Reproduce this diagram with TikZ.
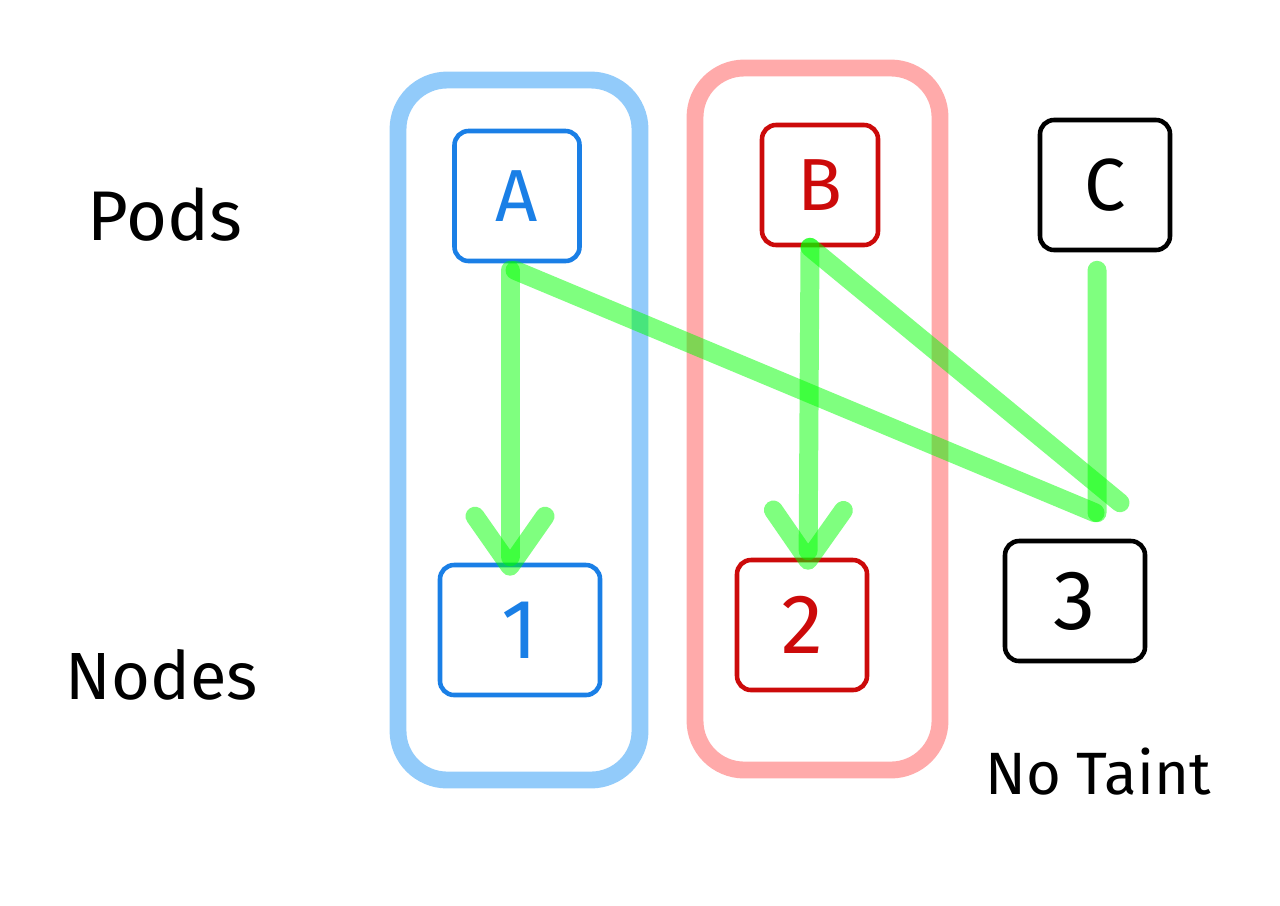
\documentclass[tikz,border=0pt]{standalone}
\usepackage{fontspec}
\setmainfont{Fira Sans}
\usetikzlibrary{arrows.meta,calc}
\definecolor{azul}{HTML}{1A7FE6}
\definecolor{azulclaro}{HTML}{92CBFA}
\definecolor{rojo}{HTML}{CC0A0A}
\definecolor{rojoclaro}{HTML}{FFAAAA}
\definecolor{verde}{HTML}{00FF00}

\begin{document}
\begin{tikzpicture}[
      p/.style={draw, rounded corners=4pt, line width=1.3pt, font=\fontsize{21}{25}\selectfont},
      n/.style={draw, rounded corners=4pt, line width=1.3pt, font=\fontsize{24}{28}\selectfont},
      zona/.style={draw, rounded corners=14pt, line width=4.8pt},
      f/.style={draw=verde, opacity=0.5, line width=5.4pt, line cap=round},
      fa/.style={f, -{Straight Barb[length=5mm, width=7mm, round]}},
      rot/.style={font=\fontsize{20}{24}\selectfont}]
    \useasboundingbox (0,0) rectangle (12.8,9.05);

    % --- Zonas de afinidad ---------------------------------------------
    \node[zona, draw=azulclaro, minimum width=2.42cm, minimum height=7.0cm] (za) at (5.19,4.75) {};
    \node[zona, draw=rojoclaro, minimum width=2.45cm, minimum height=7.02cm] (zb) at (8.175,4.86) {};

    % --- Fila 1: pods ----------------------------------------------------
    \node[rot] (pods) at (1.65,6.90) {Pods};
    \node[p, draw=azul, text=azul, minimum width=1.25cm, minimum height=1.3cm] (a) at (5.17,7.09) {A};
    \node[p, draw=rojo, text=rojo, minimum width=1.16cm, minimum height=1.2cm] (b) at (8.20,7.20) {B};
    \node[p, minimum width=1.3cm, minimum height=1.3cm] (c) at (11.05,7.20) {C};

    % --- Fila 2: nodos ---------------------------------------------------
    \node[rot, font=\fontsize{19}{23}\selectfont] (nodes) at (1.62,2.30) {Nodes};
    \node[n, draw=azul, text=azul, minimum width=1.6cm, minimum height=1.3cm] (n1) at (5.20,2.75) {1};
    \node[n, draw=rojo, text=rojo, minimum width=1.3cm, minimum height=1.3cm] (n2) at (8.02,2.80) {2};
    \node[n, minimum width=1.4cm, minimum height=1.2cm] (n3) at (10.75,3.04) {3};
    \node[font=\fontsize{17}{21}\selectfont] (taint) at (10.98,1.33) {No Taint};

    % --- Asignaciones posibles -------------------------------------------
    \draw[fa] ($(a.south)+(-0.07,-0.07)$) -- ($(n1.north)+(-0.10,-0.13)$);
    \draw[fa] ($(b.south)+(-0.10,0)$) -- ($(n2.north)+(0.06,-0.12)$);
    \draw[f] ($(a.south)+(-0.02,-0.07)$) -- ($(n3.north)+(0.20,0.26)$);
    \draw[f] ($(b.south)+(-0.10,0)$) -- ($(n3.north)+(0.45,0.36)$);
    \draw[f] ($(c.south)+(-0.08,-0.18)$) -- ($(n3.north)+(0.22,0.26)$);
  \end{tikzpicture}
\end{document}
